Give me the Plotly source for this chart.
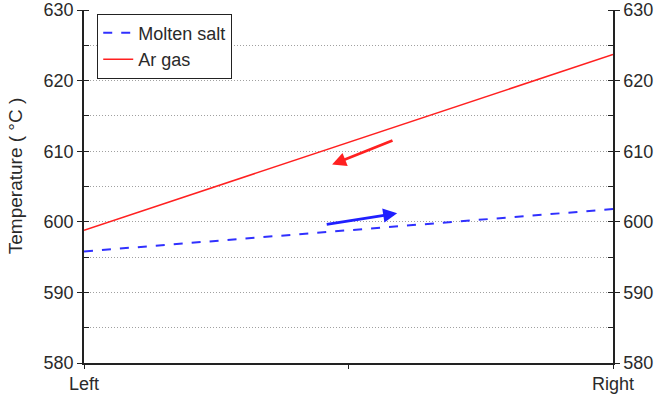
import plotly.graph_objects as go

positions = [0, 1]
x_labels = ["Left", "", "Right"]
x_tickvals = [0, 0.5, 1]
molten_salt = [595.8, 601.8]
ar_gas = [598.8, 623.7]
y_ticks = [580, 590, 600, 610, 620, 630]

# arrows: (tail_x, tail_y, head_x, head_y)
red_arrow = [0.586, 611.6, 0.469, 608.1]
blue_arrow = [0.456, 599.6, 0.592, 601.2]

FONT = "Liberation Sans, Arial, sans-serif"
TXT = "#2a2a2a"

fig = go.Figure()
fig.add_trace(go.Scatter(x=positions, y=molten_salt, mode="lines", name="Molten salt",
                         line=dict(color="#3030ff", width=2, dash="dash")))
fig.add_trace(go.Scatter(x=positions, y=ar_gas, mode="lines", name="Ar gas",
                         line=dict(color="#ff2020", width=1.5)))
fig.add_trace(go.Scatter(x=positions, y=ar_gas, yaxis="y2", mode="lines",
                         line=dict(width=0, color="rgba(0,0,0,0)"), showlegend=False,
                         hoverinfo="skip"))

for arr, col in [(red_arrow, "#ff2020"), (blue_arrow, "#2020ff")]:
    fig.add_annotation(x=arr[2], y=arr[3], ax=arr[0], ay=arr[1], xref="x", yref="y",
                       axref="x", ayref="y", showarrow=True, arrowhead=2, arrowsize=1,
                       arrowwidth=2.8, arrowcolor=col, text="")

# y-axis title placed as rotated text
fig.add_annotation(text="Temperature ( °C )", xref="paper", yref="paper", x=-0.128, y=0.53,
                   xanchor="center", yanchor="middle", textangle=-90, showarrow=False,
                   font=dict(size=19, color=TXT, family=FONT))

yaxis_common = dict(range=[580, 630], tickvals=y_ticks, showline=True, linecolor="#222",
                    linewidth=1.5, ticks="outside", ticklen=5, tickcolor="#222",
                    tickfont=dict(size=18, color=TXT, family=FONT), zeroline=False,
                    automargin=False)

fig.update_layout(
    width=661, height=398,
    margin=dict(l=84, r=48, t=10, b=35),
    plot_bgcolor="white", paper_bgcolor="white",
    font=dict(family=FONT, color=TXT),
    xaxis=dict(range=[0, 1], tickvals=x_tickvals, ticktext=x_labels, showline=True,
               linecolor="#222", linewidth=1.5, ticks="outside", ticklen=4, tickcolor="#222",
               showgrid=False, zeroline=False, automargin=False,
               tickfont=dict(size=18, color=TXT, family=FONT)),
    yaxis=dict(**yaxis_common, showgrid=True, gridcolor="#a0a0a0", griddash="1px,2px", gridwidth=1,
               minor=dict(dtick=5, showgrid=True, gridcolor="#a0a0a0", griddash="1px,2px",
                          ticks="inside", ticklen=5, tickcolor="#222")),
    yaxis2=dict(**yaxis_common, overlaying="y", side="right", showgrid=False,
                minor=dict(dtick=5, ticks="inside", ticklen=5, tickcolor="#222")),
    legend=dict(x=0.025, y=0.99, xanchor="left", yanchor="top", bordercolor="#222",
                borderwidth=1, bgcolor="white", font=dict(size=18, color=TXT, family=FONT),
                tracegroupgap=0),
    showlegend=True,
)

fig.write_html("out.html")
